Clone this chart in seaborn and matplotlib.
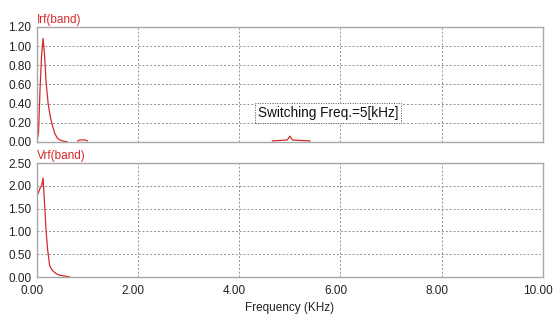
import numpy as np
import pandas as pd
import matplotlib
matplotlib.use("Agg")
import matplotlib.pyplot as plt
import matplotlib.transforms as mtransforms
import seaborn as sns

sns.set_theme(style="white")
plt.rcParams["font.family"] = ["Liberation Sans", "DejaVu Sans"]

# Current spectrum Irf(band): low-frequency lobe, small bump, switching component
irf_freq = [0.00, 0.03, 0.06, 0.09, 0.12, 0.15, 0.18, 0.22, 0.26, 0.30, 0.35, 0.40, 0.45, 0.50, 0.55, 0.60,
            np.nan, 0.80, 0.85, 0.90, 0.95, 1.00,
            np.nan, 4.65, 4.80, 4.95, 5.00, 5.05, 5.20, 5.40]
irf_val = [0.00, 0.10, 0.55, 0.90, 1.08, 0.90, 0.62, 0.40, 0.27, 0.18, 0.09, 0.04, 0.02, 0.01, 0.005, 0.00,
           np.nan, 0.01, 0.02, 0.02, 0.02, 0.01,
           np.nan, 0.01, 0.015, 0.02, 0.06, 0.02, 0.015, 0.01]

# Voltage spectrum Vrf(band)
vrf_freq = [0.00, 0.00, 0.03, 0.06, 0.09, 0.12, 0.15, 0.18, 0.21, 0.25, 0.30, 0.35, 0.40, 0.45, 0.50, 0.55, 0.60, 0.65]
vrf_val = [1.30, 1.80, 1.85, 1.95, 2.00, 2.17, 1.60, 1.00, 0.60, 0.25, 0.15, 0.10, 0.06, 0.04, 0.03, 0.02, 0.01, 0.00]

x_ticks = [0, 2, 4, 6, 8, 10]
irf_ticks = [0.0, 0.2, 0.4, 0.6, 0.8, 1.0, 1.2]
vrf_ticks = [0.0, 0.5, 1.0, 1.5, 2.0, 2.5]

red = "#d42a2a"
frame = "#a8a8a8"
grid = "#909090"
txt = "#222222"

fig = plt.figure(figsize=(5.54, 3.21), dpi=100)
ax1 = fig.add_axes([0.0668, 0.558, 0.913, 0.358])
ax2 = fig.add_axes([0.0668, 0.137, 0.913, 0.355])

irf_df = pd.DataFrame({"f": irf_freq, "v": irf_val})
vrf_df = pd.DataFrame({"f": vrf_freq, "v": vrf_val})

ax1.plot(irf_df["f"], irf_df["v"], color=red, lw=0.9)
sns.lineplot(x=vrf_df["f"], y=vrf_df["v"], ax=ax2, color=red, lw=0.9, sort=False, estimator=None)

for ax, yt, lab in [(ax1, irf_ticks, "Irf(band)"), (ax2, vrf_ticks, "Vrf(band)")]:
    ax.set_xlim(0, 10)
    ax.set_ylim(yt[0], yt[-1])
    ax.set_yticks(yt)
    ax.set_yticklabels([f"{v:.2f}" for v in yt], fontsize=8.5, color=txt)
    ax.set_xticks(x_ticks)
    ax.grid(True, ls=(0, (2, 2)), color=grid, lw=0.7)
    for s in ax.spines.values():
        s.set_color(frame)
        s.set_linewidth(1.0)
    ax.tick_params(axis="y", length=0, pad=4)
    ax.tick_params(axis="x", length=0, pad=6)
    ax.set_xlabel("")
    ax.set_ylabel("")
    ax.text(0.0, 1.01, lab, transform=ax.transAxes, color=red, fontsize=8.5,
            ha="left", va="bottom")

ax1.set_xticklabels([])
ax2.set_xticklabels([f"{v:.2f}" for v in x_ticks], fontsize=8.5, color=txt)
shift = mtransforms.ScaledTranslation(-5 / 100, 0, fig.dpi_scale_trans)
for t in ax2.get_xticklabels():
    t.set_transform(t.get_transform() + shift)
ax2.set_xlabel("Frequency (KHz)", fontsize=8.5, color=txt, labelpad=3)

ax1.text(5.76, 0.30, "Switching Freq.=5[kHz]", fontsize=9.8, color="#111111",
         ha="center", va="center",
         bbox=dict(boxstyle="square,pad=0.2", fc="white", ec="#555555", lw=0.7, ls=(0, (1, 1.5))))

fig.savefig("out.png", dpi=100)
